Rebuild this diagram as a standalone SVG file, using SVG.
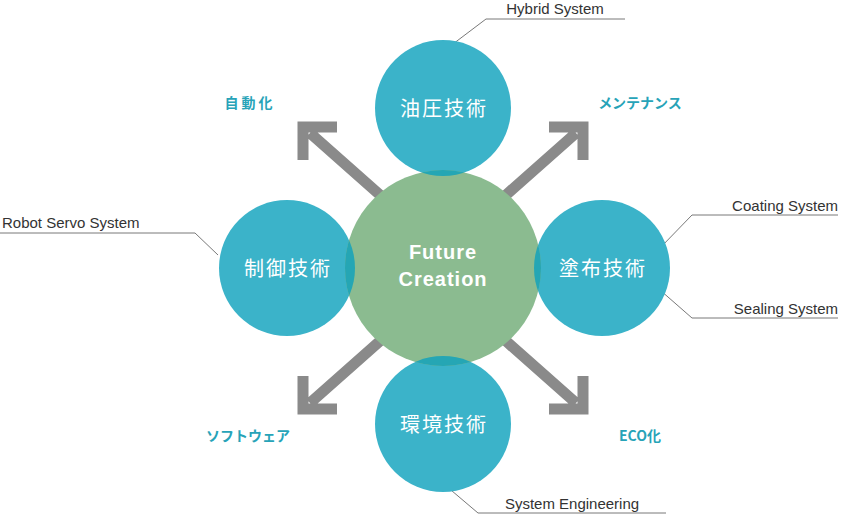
<svg xmlns="http://www.w3.org/2000/svg" width="842" height="518" viewBox="0 0 842 518">
<style>
.b{fill:#3bb3c9}.o{fill:#25a6b4}.g{fill:#8bbb90}
.jp{font-family:"Noto Sans CJK JP",sans-serif;fill:#fff;font-size:20px;text-anchor:middle;letter-spacing:2px}
.lb{font-family:"Noto Sans CJK JP","Liberation Sans",sans-serif;fill:#27a3b8;font-size:14px;font-weight:bold;text-anchor:middle}
.en{font-family:"Liberation Sans",sans-serif;fill:#333;font-size:15px}
.ln{stroke:#555;stroke-width:0.8;fill:none}
.ar{stroke:#8a8a8a;stroke-width:11;fill:none;stroke-linejoin:miter}
</style>
<defs><clipPath id="cc"><circle cx="443" cy="268" r="98"/></clipPath></defs>
<g id="connectors">
<path class="ar" d="M380 195L310 133M303 160V127H337"/>
<path class="ar" d="M506 195L576 133M583 160V127H549"/>
<path class="ar" d="M380 341L310 403M303 376V409H337"/>
<path class="ar" d="M506 341L576 403M583 376V409H549"/>
<path class="ln" d="M486 19H625M486 19L445 50"/>
<path class="ln" d="M0 233H195L218 255"/>
<path class="ln" d="M838 215H692L660 248"/>
<path class="ln" d="M838 318H692L660 290"/>
<path class="ln" d="M666 513H478L445 485"/>
</g>
<g id="n-top"><circle class="b" cx="443" cy="108" r="68"/></g>
<g id="n-left"><circle class="b" cx="287" cy="268" r="68"/></g>
<g id="n-right"><circle class="b" cx="602" cy="268" r="68"/></g>
<g id="n-bottom"><circle class="b" cx="443" cy="424" r="68"/></g>
<g id="n-center"><circle class="g" cx="443" cy="268" r="98"/>
<g clip-path="url(#cc)"><circle class="o" cx="443" cy="108" r="68"/><circle class="o" cx="287" cy="268" r="68"/><circle class="o" cx="602" cy="268" r="68"/><circle class="o" cx="443" cy="424" r="68"/></g>
<text x="443" y="259" font-family="Liberation Sans,sans-serif" font-size="20" font-weight="bold" fill="#fff" text-anchor="middle" letter-spacing="1">Future</text>
<text x="443" y="286" font-family="Liberation Sans,sans-serif" font-size="20" font-weight="bold" fill="#fff" text-anchor="middle" letter-spacing="1">Creation</text></g>
<text class="jp" x="444" y="116">油圧技術</text>
<text class="jp" x="288" y="276">制御技術</text>
<text class="jp" x="603" y="276">塗布技術</text>
<text class="jp" x="444" y="432">環境技術</text>
<text class="lb" x="250" y="108" letter-spacing="3">自動化</text>
<text class="lb" x="640" y="108">メンテナンス</text>
<text class="lb" x="248" y="441">ソフトウェア</text>
<text class="lb" x="640" y="441">ECO化</text>
<text class="en" x="555" y="14" text-anchor="middle">Hybrid System</text>
<text class="en" x="2" y="228">Robot Servo System</text>
<text class="en" x="838" y="211" text-anchor="end">Coating System</text>
<text class="en" x="838" y="314" text-anchor="end">Sealing System</text>
<text class="en" x="572" y="509" text-anchor="middle">System Engineering</text>
</svg>
